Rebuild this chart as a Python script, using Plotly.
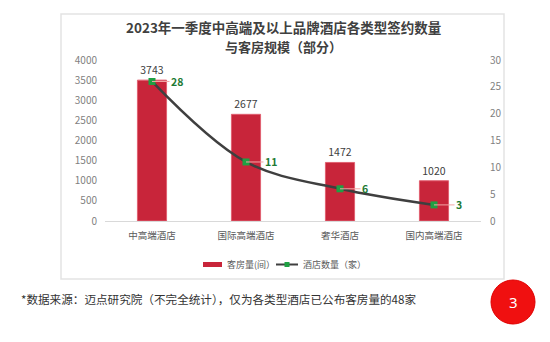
import plotly.graph_objects as go

categories = ["中高端酒店", "国际高端酒店", "奢华酒店", "国内高端酒店"]
rooms_drawn = [3500, 2650, 1455, 1000]
rooms_labels = ["3743", "2677", "1472", "1020"]
hotels_drawn = [26, 11, 6, 3]
hotels_labels = ["28", "11", "6", "3"]
left_ticks = list(range(0, 4001, 500))
right_ticks = list(range(0, 31, 5))
series_names = ["客房量(间）", "酒店数量（家）"]

W, H = 550, 342
px = lambda x: x / W
py = lambda y: 1 - y / H
BAR_COLOR = "#C8253A"
LINE_COLOR = "#3F3F3F"
MARK_COLOR = "#1FA043"
FONT = "Noto Sans CJK SC"

fig = go.Figure()
fig.add_trace(go.Bar(
    x=categories, y=rooms_drawn, name=series_names[0],
    marker=dict(color=BAR_COLOR, line=dict(color="#E06070", width=1)),
    text=rooms_labels, textposition="outside", cliponaxis=False,
    textfont=dict(size=10.5, color="#404040", family=FONT),
    width=0.31, yaxis="y", showlegend=False))
fig.add_trace(go.Scatter(
    x=categories, y=hotels_drawn, name=series_names[1], yaxis="y2",
    mode="lines+markers",
    line=dict(color=LINE_COLOR, width=2.5, shape="spline", smoothing=1),
    marker=dict(color=MARK_COLOR, size=7, symbol="square"), showlegend=False))

for c, v, t in zip(categories, hotels_drawn, hotels_labels):
    fig.add_annotation(x=c, y=v, xref="x", yref="y2", text="<b>%s</b>" % t,
                       showarrow=True, arrowhead=0, arrowwidth=1, arrowcolor="#F2A7A7",
                       ax=25, ay=0, standoff=0, startstandoff=0,
                       font=dict(size=10.5, color="#1E7A34", family=FONT))

def note(x, y, text, size, color, xanchor="center", family=FONT):
    fig.add_annotation(x=px(x), y=py(y), xref="paper", yref="paper", showarrow=False,
                       xanchor=xanchor, yanchor="middle", text=text,
                       font=dict(size=size, color=color, family=family))

note(283, 27.3, "<b>2023年一季度中高端及以上品牌酒店各类型签约数量</b>", 13.5, "#404040")
note(283, 46.8, "<b>与客房规模（部分）</b>", 13, "#404040")
note(19, 299, "*数据来源：迈点研究院（不完全统计），仅为各类型酒店已公布客房量的48家", 11.6, "#333333", xanchor="left")

# custom legend
fig.add_shape(type="rect", xref="paper", yref="paper", x0=px(203), x1=px(222), y0=py(267), y1=py(262),
              fillcolor=BAR_COLOR, line=dict(width=0))
note(225, 264.5, series_names[0], 9, "#595959", xanchor="left")
fig.add_shape(type="line", xref="paper", yref="paper", x0=px(276), x1=px(298), y0=py(264.5), y1=py(264.5),
              line=dict(color=LINE_COLOR, width=2))
fig.add_shape(type="rect", xref="paper", yref="paper", x0=px(284.5), x1=px(289.5), y0=py(267), y1=py(262),
              fillcolor=MARK_COLOR, line=dict(width=0))
note(301, 264.5, series_names[1], 9, "#595959", xanchor="left")

# red badge
fig.add_shape(type="circle", xref="paper", yref="paper",
              x0=px(491), x1=px(535), y0=py(324), y1=py(280),
              fillcolor="#F01010", line=dict(color="#E00000", width=1))
note(513, 302, "3", 15, "white", family="Noto Sans")

# frame
fig.add_shape(type="rect", xref="paper", yref="paper",
              x0=px(61), x1=px(504), y0=py(279), y1=py(14),
              line=dict(color="#E3E3E3", width=1.5), fillcolor="rgba(0,0,0,0)", layer="below")

fig.update_layout(
    width=W, height=H, margin=dict(l=0, r=0, t=0, b=0, pad=0, autoexpand=False),
    paper_bgcolor="white", plot_bgcolor="white",
    font=dict(family=FONT, color="#595959"),
    xaxis=dict(domain=[px(105), px(481)], showgrid=False, showline=True, automargin=False,
               linecolor="#D9D9D9", linewidth=1, ticks="outside", ticklen=6,
               tickcolor="rgba(0,0,0,0)", tickfont=dict(size=9.5, color="#595959")),
    yaxis=dict(range=[0, 4000], tickvals=left_ticks, showgrid=False, zeroline=False, automargin=False,
               domain=[py(221), py(60)], tickfont=dict(size=10, color="#7F7F7F"), ticklen=5,
               tickcolor="rgba(0,0,0,0)", ticks="outside"),
    yaxis2=dict(range=[0, 30], tickvals=right_ticks, overlaying="y", side="right", automargin=False,
                showgrid=False, zeroline=False, tickfont=dict(size=10, color="#7F7F7F"),
                ticks="outside", ticklen=6, tickcolor="rgba(0,0,0,0)"),
    showlegend=False,
)

fig.write_html("out.html")
